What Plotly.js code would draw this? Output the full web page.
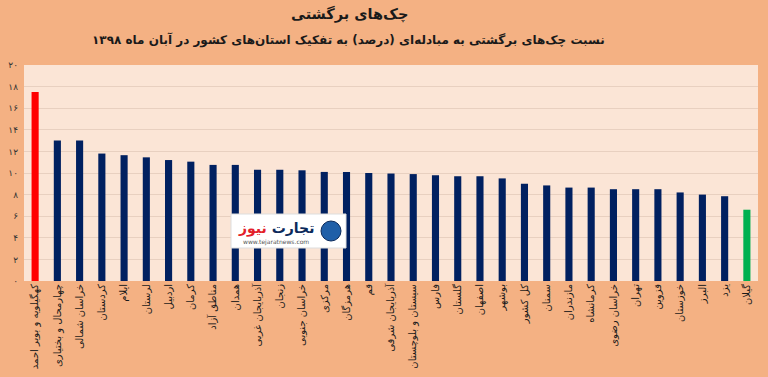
<!DOCTYPE html>
<html>
<head>
<meta charset="utf-8">
<script src="https://cdn.plot.ly/plotly-3.0.1.min.js"></script>
<style>
  html, body { margin: 0; padding: 0; background: #F4B183; }
  #chart { width: 768px; height: 377px; }
</style>
</head>
<body>
<div id="chart"></div>
<script>
const provinces = [
  "کهگیلویه و بویر احمد", "چهارمحال و بختیاری", "خراسان شمالی", "کردستان", "ایلام",
  "لرستان", "اردبیل", "کرمان", "مناطق آزاد", "همدان", "آذربایجان غربی", "زنجان",
  "خراسان جنوبی", "مرکزی", "هرمزگان", "قم", "آذربایجان شرقی", "سیستان و بلوچستان",
  "فارس", "گلستان", "اصفهان", "بوشهر", "کل کشور", "سمنان", "مازندران", "کرمانشاه",
  "خراسان رضوی", "تهران", "قزوین", "خوزستان", "البرز", "یزد", "گیلان"
];
const ratios = [
  17.5, 13.0, 13.0, 11.8, 11.65, 11.45, 11.2, 11.05, 10.75, 10.75, 10.3, 10.3,
  10.25, 10.1, 10.1, 10.0, 9.95, 9.9, 9.8, 9.7, 9.7, 9.5, 9.0, 8.85, 8.65, 8.65,
  8.5, 8.5, 8.5, 8.2, 8.0, 7.85, 6.6
];
const yTickVals = [0, 2, 4, 6, 8, 10, 12, 14, 16, 18, 20];
const yTickText = ["۰", "۲", "۴", "۶", "۸", "۱۰", "۱۲", "۱۴", "۱۶", "۱۸", "۲۰"];
const chartTitle = "چک‌های برگشتی";
const chartSubtitle = "نسبت چک‌های برگشتی به مبادله‌ای (درصد) به تفکیک استان‌های کشور در آبان ماه ۱۳۹۸";

const barColors = ratios.map((v, i) => i === 0 ? "#FF0000" : (i === ratios.length - 1 ? "#00B050" : "#002060"));

const FONT = "DejaVu Sans, sans-serif";

const trace = {
  type: "bar",
  x: provinces,
  y: ratios,
  marker: { color: barColors },
  hoverinfo: "x+y"
};

const layout = {
  width: 768,
  height: 377,
  paper_bgcolor: "#F4B183",
  plot_bgcolor: "#FBE5D6",
  margin: { l: 24, r: 10, t: 65, b: 96 },
  bargap: 0.68,
  showlegend: false,
  font: { family: FONT, color: "#222" },
  xaxis: {
    type: "category",
    tickangle: -90,
    tickfont: { family: FONT, size: 10, color: "#1a1a1a" },
    showgrid: false,
    showline: false,
    ticks: "",
    fixedrange: true
  },
  yaxis: {
    range: [0, 20],
    tickvals: yTickVals,
    ticktext: yTickText,
    tickfont: { family: FONT, size: 9, color: "#333" },
    ticklabelstandoff: 5,
    gridcolor: "#E8D0C0",
    gridwidth: 1,
    zeroline: false,
    showline: false,
    ticks: "",
    fixedrange: true
  },
  annotations: [
    {
      text: "<b>" + chartTitle + "</b>",
      xref: "paper", yref: "paper",
      x: 0.444, y: 1.236, xanchor: "center", yanchor: "middle",
      showarrow: false,
      font: { family: FONT, size: 14.5, color: "#1a1a1a" }
    },
    {
      text: "<b>" + chartSubtitle + "</b>",
      xref: "paper", yref: "paper",
      x: 0.442, y: 1.116, xanchor: "center", yanchor: "middle",
      showarrow: false,
      font: { family: FONT, size: 12, color: "#1a1a1a" }
    },
    {
      text: "<b><span style='color:#0B2A5B'>تجارت</span> <span style='color:#E3202A'>نیوز</span></b>",
      xref: "paper", yref: "paper",
      x: (276 - 24) / 734, y: (281 - 228) / 216, xanchor: "center", yanchor: "middle",
      showarrow: false,
      font: { family: FONT, size: 14 }
    },
    {
      text: "www.tejaratnews.com",
      xref: "paper", yref: "paper",
      x: (276 - 24) / 734, y: (281 - 242) / 216, xanchor: "center", yanchor: "middle",
      showarrow: false,
      font: { family: FONT, size: 6, color: "#555" }
    }
  ],
  shapes: [
    {
      type: "rect", xref: "paper", yref: "paper", layer: "above",
      x0: (231 - 24) / 734, x1: (346 - 24) / 734,
      y0: (281 - 248) / 216, y1: (281 - 214) / 216,
      fillcolor: "#FFFFFF", line: { color: "#DDDDDD", width: 1 }
    },
    {
      type: "circle", xref: "paper", yref: "paper", layer: "above",
      x0: (321 - 24) / 734, x1: (341 - 24) / 734,
      y0: (281 - 241) / 216, y1: (281 - 221) / 216,
      fillcolor: "#1F5FA8", line: { color: "#0B2A5B", width: 1 }
    }
  ]
};

Plotly.newPlot("chart", [trace], layout, { displayModeBar: false, staticPlot: true });
</script>
</body>
</html>
